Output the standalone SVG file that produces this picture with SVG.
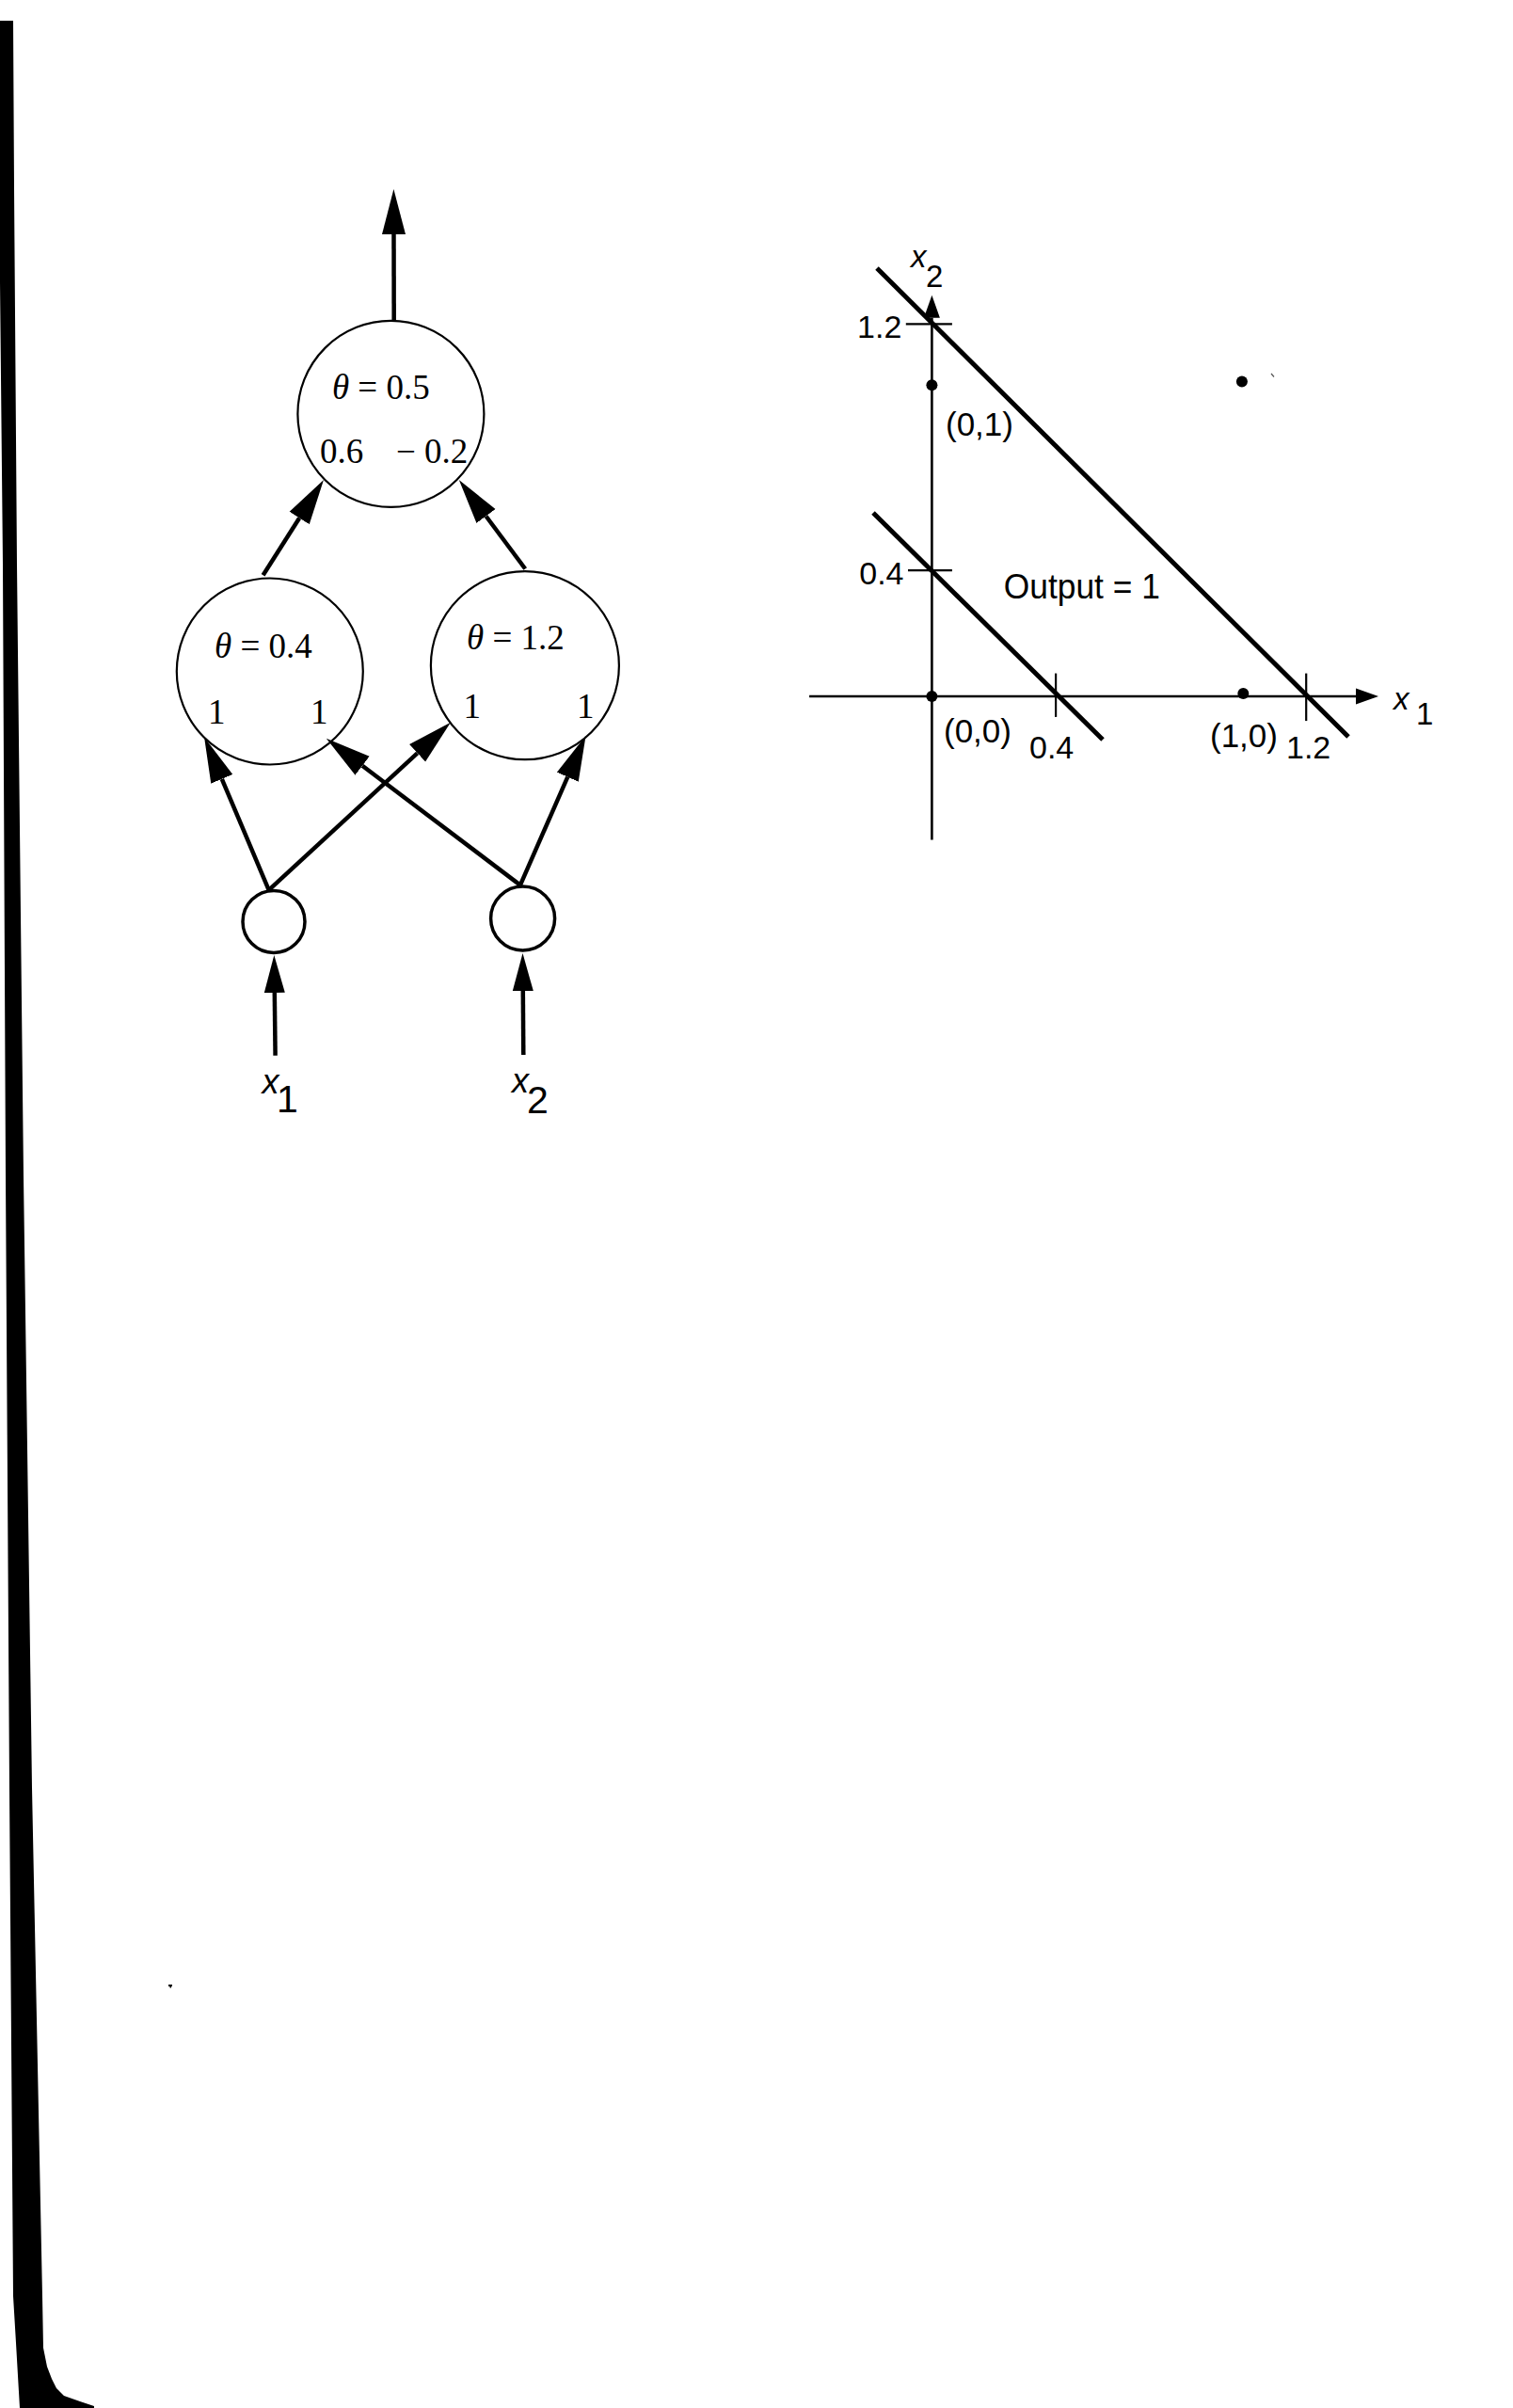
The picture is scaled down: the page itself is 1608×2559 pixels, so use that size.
<svg xmlns="http://www.w3.org/2000/svg" width="1608" height="2559" viewBox="0 0 1608 2559">
<style>
.bg{fill:#fff}
.node{fill:none;stroke:#000;stroke-width:2.2}
.inode{fill:none;stroke:#000;stroke-width:3.5}
.conn{stroke:#000;stroke-width:4.5;fill:none}
.axis{stroke:#000;stroke-width:2.6;fill:none}
.tick{stroke:#000;stroke-width:2.2;fill:none}
.dline{stroke:#000;stroke-width:5;fill:none}
.ser{font-family:"Liberation Serif","Times New Roman",serif;font-size:37px;fill:#000}
.sans{font-family:"Liberation Sans",Arial,sans-serif;fill:#000}
.it{font-style:italic}
</style>
<defs>
<marker id="big" markerUnits="userSpaceOnUse" viewBox="0 -13 50 26" markerWidth="50" markerHeight="26" refX="0" refY="0" orient="auto"><path d="M0,-12.5 L48,0 L0,12.5 Z" fill="#000"/></marker>
<marker id="inp" markerUnits="userSpaceOnUse" viewBox="0 -12 42 24" markerWidth="42" markerHeight="24" refX="0" refY="0" orient="auto"><path d="M0,-11 L40,0 L0,11 Z" fill="#000"/></marker>
<marker id="ax" markerUnits="userSpaceOnUse" viewBox="0 -10 26 20" markerWidth="26" markerHeight="20" refX="0" refY="0" orient="auto"><path d="M0,-8.5 L24,0 L0,8.5 Z" fill="#000"/></marker>
</defs>
<rect class="bg" x="0" y="0" width="1608" height="2559"/>
<!-- scanned page edge -->
<path d="M0,22 L14,22 L15,200 L18,600 L25,1250 L34,1900 L45,2440 L46,2495 L50,2515 L55,2528 L60,2538 L68,2546 L85,2552 L100,2557 L100,2559 L21,2559 L17,2490 L14,2440 L10,1900 L6,1250 L3,600 L0,300 Z" fill="#000"/>
<rect x="179" y="2109" width="4" height="2" fill="#000"/>
<rect x="180.5" y="2110" width="1.5" height="2.5" fill="#000"/>

<g id="connectors">
<line class="conn" x1="418.7" y1="341" x2="418.5" y2="249" marker-end="url(#big)"/>
<line class="conn" x1="279.6" y1="611.2" x2="318.2" y2="550.5" marker-end="url(#big)"/>
<line class="conn" x1="558.2" y1="604.5" x2="516.5" y2="548.5" marker-end="url(#big)"/>
<line class="conn" x1="285.7" y1="945.8" x2="235.8" y2="827.8" marker-end="url(#big)"/>
<line class="conn" x1="285.7" y1="945.8" x2="443.6" y2="800.3" marker-end="url(#big)"/>
<line class="conn" x1="552.9" y1="940.6" x2="385.1" y2="813.7" marker-end="url(#big)"/>
<line class="conn" x1="552.9" y1="940.6" x2="603.3" y2="825.7" marker-end="url(#big)"/>
<line class="conn" x1="292.6" y1="1121.7" x2="291.8" y2="1055" marker-end="url(#inp)"/>
<line class="conn" x1="556.3" y1="1121" x2="555.8" y2="1053" marker-end="url(#inp)"/>
</g>

<g id="node-out">
<circle class="node" cx="415.4" cy="439.9" r="99"/>
<text class="ser" x="352.9" y="423.8"><tspan class="it">θ</tspan> = 0.5</text>
<text class="ser" x="340" y="491.8">0.6</text>
<text class="ser" x="421" y="491.8">− 0.2</text>
</g>
<g id="node-h1">
<circle class="node" cx="286.8" cy="713.5" r="99"/>
<text class="ser" x="228" y="698.6"><tspan class="it">θ</tspan> = 0.4</text>
<text class="ser" x="221" y="769">1</text>
<text class="ser" x="330" y="769">1</text>
</g>
<g id="node-h2">
<circle class="node" cx="557.9" cy="707.2" r="100"/>
<text class="ser" x="496" y="689.9"><tspan class="it">θ</tspan> = 1.2</text>
<text class="ser" x="492.5" y="762.7">1</text>
<text class="ser" x="613" y="762.7">1</text>
</g>
<g id="node-in1">
<circle class="inode" cx="291" cy="979.4" r="33"/>
<text class="sans" x="278.5" y="1161.5" font-size="36"><tspan class="it">x</tspan><tspan x="294" y="1181.7" font-size="41">1</tspan></text>
</g>
<g id="node-in2">
<circle class="inode" cx="555.6" cy="976" r="34"/>
<text class="sans" x="544" y="1160.7" font-size="36"><tspan class="it">x</tspan><tspan x="560" y="1183.3" font-size="41">2</tspan></text>
</g>

<g id="graph">
<line class="axis" x1="990.4" y1="892.4" x2="990.4" y2="337.7" marker-end="url(#ax)"/>
<line class="axis" x1="860.1" y1="740" x2="1441" y2="740" marker-end="url(#ax)"/>
<line class="tick" x1="962.8" y1="344.4" x2="1011.9" y2="344.4"/>
<line class="tick" x1="965" y1="606.2" x2="1011.9" y2="606.2"/>
<line class="tick" x1="1122.1" y1="715.6" x2="1122.1" y2="761.9"/>
<line class="tick" x1="1388.2" y1="715.6" x2="1388.2" y2="766.1"/>
<line class="dline" x1="932" y1="285" x2="1433" y2="783"/>
<line class="dline" x1="928" y1="545" x2="1172" y2="786"/>
<circle cx="990.4" cy="409.2" r="6" fill="#000"/>
<circle cx="990.4" cy="740" r="6" fill="#000"/>
<circle cx="1321.3" cy="737" r="6" fill="#000"/>
<circle cx="1319.9" cy="405.4" r="6" fill="#000"/>
<line x1="1351" y1="397" x2="1354" y2="400.5" stroke="#555" stroke-width="1.2"/>
<text class="sans" font-size="34" x="958.3" y="358.7" text-anchor="end">1.2</text>
<text class="sans" font-size="34" x="960.5" y="620.9" text-anchor="end">0.4</text>
<text class="sans" font-size="34" x="1094" y="806.1">0.4</text>
<text class="sans" font-size="34" x="1367" y="806.1">1.2</text>
<text class="sans" font-size="35" x="1005" y="463">(0,1)</text>
<text class="sans" font-size="35" x="1003" y="789">(0,0)</text>
<text class="sans" font-size="35" x="1286" y="794">(1,0)</text>
<text class="sans" font-size="36" x="1066.8" y="635.6" textLength="166" lengthAdjust="spacingAndGlyphs">Output = 1</text>
<text class="sans" font-size="33" x="968" y="284.2"><tspan class="it">x</tspan><tspan x="984" y="305.2">2</tspan></text>
<text class="sans" font-size="33" x="1481" y="753.5"><tspan class="it">x</tspan><tspan x="1505" y="770.3">1</tspan></text>
</g>
</svg>
